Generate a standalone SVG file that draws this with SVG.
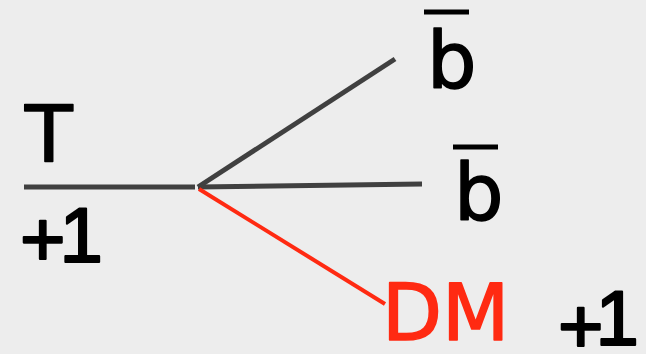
<svg xmlns="http://www.w3.org/2000/svg" width="646" height="354" viewBox="0 0 646 354">
<style>
.t{font-family:"DejaVu Sans",sans-serif;font-size:78px;fill:#000;stroke:#000;stroke-width:1.6;stroke-linejoin:round}
.n{font-family:"Liberation Sans",Arial,sans-serif;font-size:78px;fill:#000;stroke:#000;stroke-width:2.2;stroke-linejoin:round}
.red{fill:#ff2a12;stroke:#ff2a12}
.ln{stroke:#404040;stroke-width:5;stroke-linecap:butt;fill:none}
.lr{stroke:#ff2a12;stroke-width:4;fill:none}
.bar{stroke:#000;stroke-width:5}
</style>
<rect width="646" height="354" fill="#ededed"/>
<g id="connectors">
<line class="ln" x1="24" y1="187" x2="195" y2="187"/>
<line class="ln" x1="198" y1="187" x2="395" y2="59"/>
<line class="ln" x1="198" y1="187" x2="422" y2="184"/>
<line class="lr" x1="199" y1="189" x2="385" y2="304"/>
</g>
<g id="T">
<text class="t" x="25" y="162">T</text>
<text class="n" x="20" y="262" letter-spacing="-6"><tspan dy="4">+</tspan><tspan dy="-4">1</tspan></text>
</g>
<g id="b1">
<line class="bar" x1="424" y1="12" x2="469" y2="12"/>
<text class="t" x="427" y="88">b</text>
</g>
<g id="b2">
<line class="bar" x1="453" y1="147" x2="498" y2="147"/>
<text class="t" x="454" y="220">b</text>
</g>
<g id="DM">
<text class="t red" x="382" y="340">DM</text>
<text class="n" x="558" y="345" letter-spacing="-8"><tspan dy="8">+</tspan><tspan dy="-8">1</tspan></text>
</g>
</svg>
